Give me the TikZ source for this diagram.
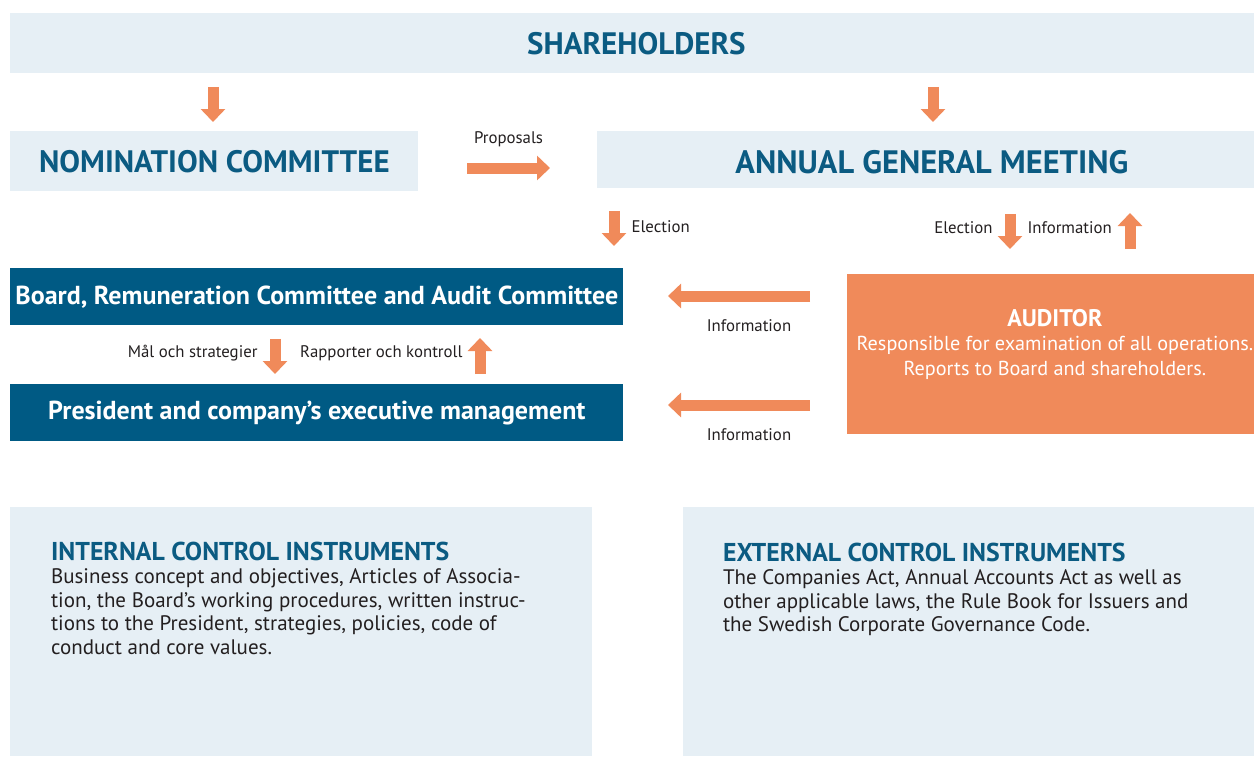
\documentclass[tikz,border=0pt]{standalone}
\usepackage{fontspec}
\usepackage{tikz}
\usetikzlibrary{arrows.meta,positioning}
\setmainfont{PT Sans}

\definecolor{paleblue}{HTML}{E6EFF5}
\definecolor{deepblue}{HTML}{005A84}
\definecolor{headblue}{HTML}{0B5B82}
\definecolor{auditorange}{HTML}{F08A5A}
\definecolor{bodygray}{HTML}{231F20}

\begin{document}
\begin{tikzpicture}[x=0.5pt,y=-0.5pt,
  pale/.style={fill=paleblue,anchor=north west,inner sep=0pt},
  dark/.style={fill=deepblue,anchor=north west,inner sep=0pt,text=white,
    font=\bfseries\fontsize{13}{15}\selectfont},
  bighead/.style={text=headblue,font=\bfseries\fontsize{15.5}{18}\selectfont},
  fatarrow/.style={draw=auditorange,line width=5.5pt,-{Triangle[width=12pt,length=6.5pt]}},
  small/.style={text=bodygray,font=\fontsize{8.4}{10}\selectfont,inner sep=2pt}]
\useasboundingbox (0,0) rectangle (1254,756);

% boxes
\node [pale,minimum width=622pt,minimum height=30pt] (sh) at (10,13) {};
\node [bighead] at ([xshift=2pt]sh.center) {SHAREHOLDERS};
\node [pale,minimum width=204pt,minimum height=30pt,bighead] (nom) at (10,131) {NOMINATION COMMITTEE};
\node [pale,minimum width=328.5pt,minimum height=28.5pt] (agm) at (597,131) {};
\node [bighead,font=\bfseries\fontsize{16.2}{18}\selectfont] at ([xshift=3pt,yshift=-1pt]agm.center)
  {ANNUAL GENERAL MEETING};
\node [dark,minimum width=306.5pt,minimum height=28.5pt] (board) at (10,268)
  {Board, Remuneration Committee and Audit Committee};
\node [dark,minimum width=306.5pt,minimum height=28.5pt] (pres) at (10,384)
  {President and company’s executive management};
\node [fill=auditorange,anchor=north west,minimum width=203.5pt,minimum height=80pt] (aud) at (847,274) {};
\node [anchor=north,text=white,align=center,font=\fontsize{10.1}{12.2}\selectfont]
  (audtxt) at ([yshift=-14pt,xshift=2pt]aud.north)
  {{\bfseries\fontsize{12}{14}\selectfont AUDITOR}\\
   Responsible for examination of all operations.\\
   Reports to Board and shareholders.};
\node [pale,minimum width=291pt,minimum height=124.5pt] (int) at (10,507) {};
\node [pale,minimum width=285.5pt,minimum height=124.5pt] (ext) at (683,507) {};

% control instruments
\node [anchor=north west,align=left,text=bodygray,font=\fontsize{10.5}{11.75}\selectfont]
  (inttxt) at ([xshift=17pt,yshift=-14pt]int.north west)
  {{\bfseries\color{headblue}\fontsize{12.9}{14}\selectfont INTERNAL CONTROL INSTRUMENTS}\\
   Business concept and objectives, Articles of Associa-\\
   tion, the Board’s working procedures, written instruc-\\
   tions to the President, strategies, policies, code of\\
   conduct and core values.};
\node [anchor=north west,align=left,text=bodygray,font=\fontsize{10.5}{11.75}\selectfont]
  (exttxt) at ([xshift=16.5pt,yshift=-14.5pt]ext.north west)
  {{\bfseries\color{headblue}\fontsize{12.9}{14}\selectfont EXTERNAL CONTROL INSTRUMENTS}\\
   The Companies Act, Annual Accounts Act as well as\\
   other applicable laws, the Rule Book for Issuers and\\
   the Swedish Corporate Governance Code.};

% arrow ends
\coordinate (nomin) at (213,122);
\coordinate (agmin) at (933,122);
\coordinate (propin) at (550,168);
\coordinate (boardin) at (614,246);
\coordinate (audin) at (1010,249);
\coordinate (agmback) at (1130,213);
\coordinate (infoa) at (668,296);
\coordinate (infob) at (668,405);
\coordinate (presin) at (275,374);
\coordinate (boardback) at (480,338);

% arrows
\draw [fatarrow] (nomin |- sh.south) ++(0,13) -- (nomin);
\draw [fatarrow] (agmin |- sh.south) ++(0,13) -- (agmin);
\draw [fatarrow] (467,168) -- (propin) node [small,midway,above=6pt] {Proposals};
\draw [fatarrow] (boardin |- agm.south) ++(0,22) -- (boardin)
  node [small,midway,right=4pt,yshift=1pt] {Election};
\draw [fatarrow] (audin |- agm.south) ++(0,25) -- (audin)
  node [small,midway,left=4pt,yshift=2pt] {Election}
  node [small,midway,right=4pt,yshift=2pt] {Information};
\draw [fatarrow] (agmback |- aud.north) ++(0,-25) -- (agmback);
\draw [fatarrow] (810,296) -- (infoa) node [small,midway,below=7pt,xshift=5pt] {Information};
\draw [fatarrow] (810,405) -- (infob) node [small,midway,below=7pt,xshift=5pt] {Information};
\draw [fatarrow] (presin |- board.south) ++(0,13) -- (presin)
  node [small,midway,left=4pt,yshift=1.5pt] {Mål och strategier};
\draw [fatarrow] (boardback |- pres.north) ++(0,-10) -- (boardback)
  node [small,midway,left=4pt,yshift=1.5pt] {Rapporter och kontroll};
\end{tikzpicture}
\end{document}
